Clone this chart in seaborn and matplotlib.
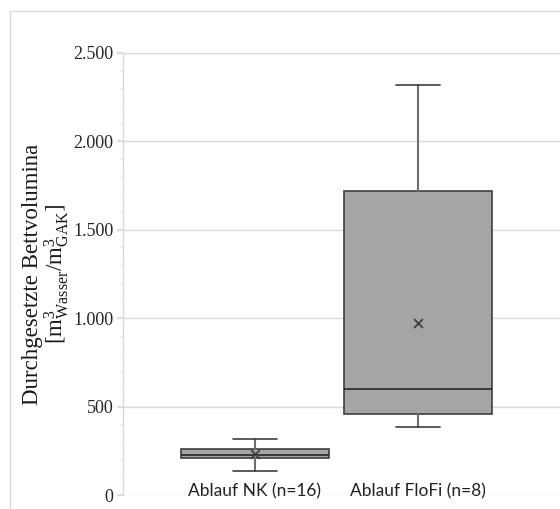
import matplotlib
matplotlib.use("Agg")
import matplotlib.pyplot as plt
import seaborn as sns
from matplotlib.patches import Rectangle
from matplotlib.ticker import MultipleLocator, FuncFormatter

# Kennwerte je Probenahmestelle
labels = ["Ablauf NK (n=16)", "Ablauf FloFi (n=8)"]
whisker_low = [136, 386]
q1 = [208, 458]
median = [225, 598]
q3 = [260, 1721]
whisker_high = [315, 2319]
means = [232, 975]

sns.set_theme(style="whitegrid")
plt.rcParams['font.family'] = ['Liberation Serif', 'DejaVu Serif']
plt.rcParams['mathtext.fontset'] = 'custom'
plt.rcParams['mathtext.rm'] = 'Liberation Serif'
plt.rcParams['mathtext.it'] = 'Liberation Serif:italic'

fig = plt.figure(figsize=(5.6, 5.09), dpi=100)
ax = fig.add_axes([123 / 560, 14 / 509, 437 / 560, 442 / 509])

stats = []
for i in range(len(labels)):
    stats.append({
        'whislo': whisker_low[i], 'q1': q1[i], 'med': median[i],
        'q3': q3[i], 'whishi': whisker_high[i], 'mean': means[i],
        'fliers': [], 'label': labels[i],
    })

ax.bxp(stats, positions=[0, 1], widths=0.906, patch_artist=True,
       showmeans=False, showfliers=False,
       boxprops=dict(facecolor='#A5A5A5', edgecolor='#404040', linewidth=1.2),
       medianprops=dict(color='#262626', linewidth=1.2),
       whiskerprops=dict(color='#6E6E6E', linewidth=1.5),
       capprops=dict(color='#404040', linewidth=1.2),
       capwidths=0.27, zorder=3)

sns.scatterplot(x=[0, 1], y=means, marker='x', color='#404040', s=40,
                linewidth=1.3, ax=ax, zorder=4, legend=False)

ax.set_xlim(-0.808, 1.868)
ax.set_ylim(0, 2500)
ax.yaxis.set_major_locator(MultipleLocator(500))
ax.yaxis.set_minor_locator(MultipleLocator(100))
ax.yaxis.set_major_formatter(FuncFormatter(lambda v, p: f"{int(v):,}".replace(",", ".")))

ax.set_xticks([0, 1])
ax.set_xticklabels(labels, family=['Lato', 'DejaVu Sans'], fontsize=12.5, color='#1f1f1f')
ax.tick_params(axis='x', length=0, pad=-8.5)
ax.tick_params(axis='y', which='major', length=4, color='#D9D9D9', labelsize=13,
               labelcolor='#262626', pad=3, left=True)
ax.tick_params(axis='y', which='minor', length=2.5, color='#E6E6E6', left=True)

ax.grid(axis='y', which='major', color='#D9D9D9', linewidth=1)
ax.grid(axis='x', visible=False)
ax.grid(axis='y', which='minor', visible=False)
for s in ['top', 'right', 'bottom']:
    ax.spines[s].set_visible(False)
ax.spines['left'].set_color('#D9D9D9')
ax.spines['left'].set_linewidth(1)

ax.set_ylabel("Durchgesetzte Bettvolumina\n"
              r"[$\mathrm{m}^{3}_{\mathrm{Wasser}}$/$\mathrm{m}^{3}_{\mathrm{GAK}}$]",
              fontsize=16.5, color='#1a1a1a', linespacing=1.0)
ax.yaxis.label.set_va('center')
ax.yaxis.set_label_coords(-0.175, 0.5)
ax.set_xlabel("")

# Rahmen des Diagrammbereichs
fig.add_artist(Rectangle((10 / 560, -0.1), 2.0, 1.1 - 10.5 / 509,
                         transform=fig.transFigure, fill=False,
                         edgecolor='#D9D9D9', linewidth=1))

fig.savefig("out.png", dpi=100)
